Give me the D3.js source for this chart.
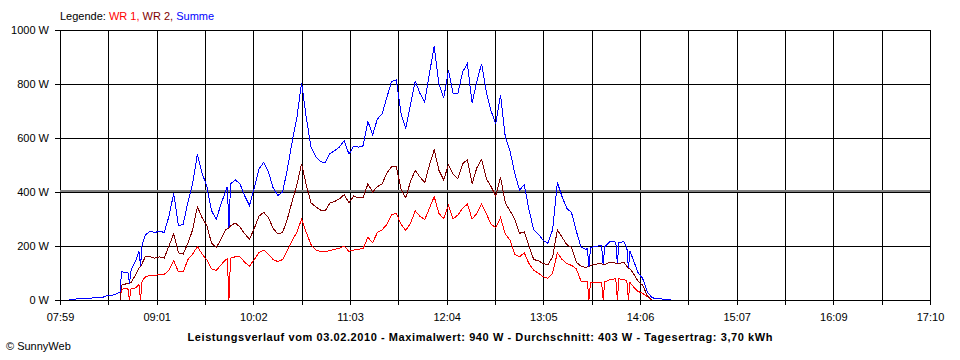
<!DOCTYPE html>
<html>
<head>
<meta charset="utf-8">
<script src="https://cdn.jsdelivr.net/npm/d3@7"></script>
<style>
  body { margin: 0; background: #fff; }
  svg text { font-family: "Liberation Sans", Arial, sans-serif; font-size: 11px; }
</style>
</head>
<body>
<div id="chart"></div>
<script>
////////////////// Data ////////////////////
var dayStart = "07:59";
var dayEnd = "17:10";
var tickLabels = ["07:59", "09:01", "10:02", "11:03", "12:04", "13:05", "14:06", "15:07", "16:09", "17:10"];
var yTicks = [0, 200, 400, 600, 800, 1000];
var avgValue = 403;

var times = [
  "08:05", "08:08", "08:11", "08:14", "08:17", "08:20", "08:23", "08:26", "08:29", "08:32", "08:35",
  "08:37", "08:38", "08:41", "08:42", "08:43", "08:44", "08:47", "08:49", "08:50", "08:51", "08:53", "08:56", "08:59",
  "09:02", "09:05", "09:08", "09:11", "09:14", "09:17", "09:20", "09:23", "09:26", "09:29", "09:32", "09:35", "09:38", "09:41", "09:44", "09:45", "09:46", "09:47", "09:50", "09:53", "09:56", "09:59",
  "10:02", "10:05", "10:08", "10:11", "10:14", "10:17", "10:20", "10:23", "10:26", "10:29", "10:32", "10:35", "10:38", "10:41", "10:44", "10:47", "10:50", "10:53", "10:56", "10:59",
  "11:02", "11:05", "11:08", "11:11", "11:14", "11:17", "11:20", "11:23", "11:26", "11:29", "11:32", "11:35", "11:38", "11:41", "11:44", "11:47", "11:50", "11:53", "11:56", "11:59",
  "12:02", "12:05", "12:08", "12:11", "12:14", "12:17", "12:20", "12:23", "12:26", "12:29", "12:32", "12:35", "12:38", "12:41", "12:44", "12:47", "12:50", "12:53", "12:56", "12:59",
  "13:02", "13:05", "13:08", "13:11", "13:14", "13:17", "13:20", "13:23", "13:26", "13:29", "13:32", "13:33", "13:34", "13:35", "13:38", "13:41", "13:42", "13:43", "13:44", "13:47", "13:50", "13:51", "13:52", "13:53", "13:56", "13:58", "13:59",
  "14:00", "14:02", "14:05", "14:08", "14:11", "14:14", "14:17", "14:20", "14:23", "14:26"
];

// WR 1 (W)
var wr1 = [
  null, null, null, null, null, null, null, null, null, null, null,
  0, 40, 42, 42, 0, 42, 45, 58, 0, 70, 85, 92, 92,
  93, 95, 110, 145, 105, 104, 150, 170, 198, 170, 148, 115, 110, 130, 150, 153, 0, 155, 160, 160, 140, 125,
  150, 175, 185, 170, 150, 142, 150, 185, 220, 250, 300, 250, 205, 185, 179, 179, 183, 188, 192, 200,
  180, 185, 188, 191, 232, 212, 250, 260, 280, 315, 321, 280, 258, 285, 330, 310, 298, 340, 383, 320,
  302, 350, 300, 315, 340, 355, 300, 320, 355, 320, 280, 268, 305, 245, 222, 170, 160, 175, 135, 110,
  99, 86, 80, 100, 175, 150, 135, 128, 115, 70, 68, 67, 0, 66, 66, 66, 66, 0, 67, 75, 78, 78, 0, 78, 76, 71, 0,
  65, 50, 32, 25, 12, 0, null, null, null, null
];

// WR 2 (W)
var wr2 = [
  null, null, null, null, null, null, null, null, null, null, null,
  0, 55, 60, 61, 61, 65, 95, 118, 125, 135, 160, 160, 155,
  160, 155, 200, 245, 175, 170, 210, 260, 345, 305, 275, 210, 195, 225, 260, 265, 265, 275, 285, 270, 245, 225,
  265, 310, 325, 305, 265, 245, 250, 300, 365, 425, 505, 425, 360, 345, 333, 330, 360, 365, 375, 390,
  360, 385, 378, 380, 430, 400, 420, 430, 470, 494, 494, 410, 378, 440, 480, 455, 435, 500, 556, 480,
  445, 500, 465, 450, 505, 520, 430, 490, 520, 450, 420, 385, 455, 360, 330, 300, 247, 252, 200, 150,
  145, 135, 130, 160, 260, 232, 205, 195, 140, 125, 120, 123, 123, 128, 132, 135, 134, 132, 130, 140, 138, 136, 136, 135, 140, 125, 118,
  115, 100, 70, 55, 15, 0, null, null, null, null
];

// Summe (W)
var summe = [
  0, 3, 5, 7, 6, 8, 9, 10, 16, 17, 24,
  30, 105, 100, 103, 61, 110, 145, 180, 125, 205, 240, 255, 250,
  255, 250, 310, 395, 275, 280, 362, 430, 540, 470, 420, 330, 300, 355, 405, 420, 265, 430, 445, 430, 385, 350,
  415, 485, 510, 475, 415, 387, 400, 485, 585, 675, 805, 675, 565, 530, 512, 509, 543, 553, 567, 590,
  540, 570, 566, 571, 662, 612, 670, 690, 750, 809, 815, 690, 636, 725, 810, 765, 733, 840, 939, 800,
  747, 850, 765, 765, 845, 875, 730, 810, 875, 770, 700, 653, 760, 605, 552, 470, 407, 427, 335, 260,
  244, 221, 210, 260, 435, 382, 340, 323, 255, 195, 188, 190, 123, 194, 198, 201, 200, 132, 197, 215, 216, 214, 136, 213, 216, 196, 118,
  180, 150, 102, 80, 30, 8, 6, 4, 2, 0
];

////////////////// Chart Parameters ////////////////////
var svgWidth = 960;
var svgHeight = 360;
var margin = { top: 30, right: 30, bottom: 60, left: 60 };
var width = svgWidth - margin.left - margin.right;
var height = svgHeight - margin.top - margin.bottom;
var parseTime = d3.timeParse("%H:%M");

var rows = times.map(function (t, i) {
  return { time: parseTime(t), wr1: wr1[i], wr2: wr2[i], summe: summe[i] };
});

////////////////// SVG Container ////////////////////
var svg = d3.select("#chart").append("svg")
  .attr("width", svgWidth)
  .attr("height", svgHeight);

var chartGroup = svg.append("g")
  .attr("transform", `translate(${margin.left}, ${margin.top})`);

////////// Scales //////////
var xTimeScale = d3.scaleTime()
  .domain([parseTime(dayStart), parseTime(dayEnd)])
  .range([0, width]);

var yLinearScale = d3.scaleLinear()
  .domain([0, 1000])
  .range([height, 0]);

// 18 equal grid steps, every second one labelled
var t0 = parseTime(dayStart).getTime();
var t1 = parseTime(dayEnd).getTime();
var gridTimes = d3.range(19).map(i => new Date(t0 + i * (t1 - t0) / 18));

////////// Axes + grid //////////
var xAxis = d3.axisBottom(xTimeScale)
  .tickValues(gridTimes)
  .tickSizeInner(-(height + 5))
  .tickSizeOuter(0)
  .tickPadding(8)
  .tickFormat((d, i) => i % 2 ? "" : tickLabels[i / 2]);

var yAxis = d3.axisLeft(yLinearScale)
  .tickValues(yTicks)
  .tickSizeInner(-(width + 5))
  .tickSizeOuter(0)
  .tickPadding(6)
  .tickFormat(d => d + " W");

chartGroup.append("g")
  .attr("transform", `translate(0, ${height + 5})`)
  .call(xAxis)
  .call(g => g.select(".domain").remove());

chartGroup.append("g")
  .attr("transform", "translate(-5, 0)")
  .call(yAxis)
  .call(g => g.select(".domain").remove());

chartGroup.selectAll(".tick line")
  .attr("stroke", "#000")
  .attr("shape-rendering", "crispEdges");

chartGroup.selectAll(".tick text")
  .attr("font-family", "'Liberation Sans', Arial, sans-serif")
  .attr("font-size", 11)
  .attr("fill", "#000");

////////// Average line //////////
chartGroup.append("line")
  .attr("x1", 0)
  .attr("x2", width)
  .attr("y1", yLinearScale(avgValue))
  .attr("y2", yLinearScale(avgValue))
  .attr("stroke", "#808080")
  .attr("stroke-width", 2)
  .attr("shape-rendering", "crispEdges");

////////// Series //////////
function lineFor(key) {
  return d3.line()
    .defined(d => d[key] != null)
    .x(d => xTimeScale(d.time))
    .y(d => yLinearScale(d[key]));
}

[["wr1", "#ff0000"], ["wr2", "#800000"], ["summe", "#0000ff"]].forEach(function (s) {
  chartGroup.append("path")
    .datum(rows)
    .attr("fill", "none")
    .attr("stroke", s[1])
    .attr("stroke-width", 1)
    .attr("shape-rendering", "crispEdges")
    .attr("d", lineFor(s[0]));
});

////////// Legend, title, footer //////////
var legend = svg.append("text")
  .attr("x", 60)
  .attr("y", 20);
legend.append("tspan").attr("fill", "#000").text("Legende: ");
legend.append("tspan").attr("fill", "#ff0000").text("WR 1, ");
legend.append("tspan").attr("fill", "#800000").text("WR 2, ");
legend.append("tspan").attr("fill", "#0000ff").text("Summe");

svg.append("text")
  .attr("x", 480)
  .attr("y", 341)
  .attr("text-anchor", "middle")
  .attr("font-weight", "bold")
  .attr("font-size", 12)
  .attr("textLength", 585)
  .attr("lengthAdjust", "spacing")
  .text("Leistungsverlauf vom 03.02.2010 - Maximalwert: 940 W - Durchschnitt: 403 W - Tagesertrag: 3,70 kWh");

svg.append("text")
  .attr("x", 6)
  .attr("y", 350)
  .text("© SunnyWeb");
</script>
</body>
</html>
